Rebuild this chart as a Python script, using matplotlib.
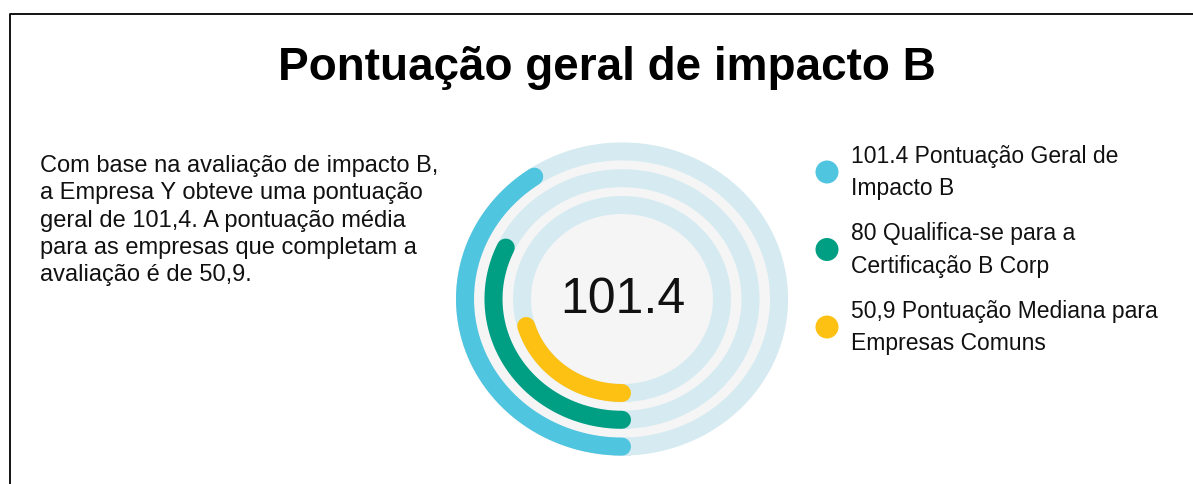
import numpy as np
import matplotlib.pyplot as plt

plt.rcParams['font.family'] = ['Liberation Sans', 'DejaVu Sans']

# dados
series_labels = [['101.4 Pontuação Geral de', 'Impacto B'],
                 ['80 Qualifica-se para a', 'Certificação B Corp'],
                 ['50,9 Pontuação Mediana para', 'Empresas Comuns']]
series_values = [101.4, 80, 50.9]
series_colors = ['#4fc5df', '#009e82', '#fdc113']
scale_max = 250
center_value = '101.4'
title = 'Pontuação geral de impacto B'
intro = ['Com base na avaliação de impacto B,',
         'a Empresa Y obteve uma pontuação',
         'geral de 101,4. A pontuação média',
         'para as empresas que completam a',
         'avaliação é de 50,9.']

W, H = 1193, 485
fig = plt.figure(figsize=(W / 100, H / 100), dpi=100)
ax = fig.add_axes([0, 0, 1, 1])
ax.set_xlim(0, W)
ax.set_ylim(H, 0)
ax.axis('off')

# moldura
ax.plot([9.5, 9.5, W], [H, 14.5, 14.5], color='black', lw=1.3, solid_capstyle='butt')

ax.text(607, 80, title, ha='center', va='baseline', fontsize=33, fontweight='bold')
for i, line in enumerate(intro):
    ax.text(40, 172 + i * 27.3, line, ha='left', va='baseline', fontsize=17, color='#111111')

# anéis
cx, cy = 622, 300
ry_ratio = 0.94
radii = [157, 128.5, 100]
ring_w = 18 * 72 / 100

t = np.linspace(0, 2 * np.pi, 400)
ax.fill(cx + 166 * np.sin(t), cy + 166 * ry_ratio * np.cos(t), color='#f5f5f5', lw=0)
for r in radii:
    ax.plot(cx + r * np.sin(t), cy + r * ry_ratio * np.cos(t), color='#d5ebf1', lw=ring_w)

for r, v, c in zip(radii, series_values, series_colors):
    ang = np.linspace(0, v / scale_max * 2 * np.pi, 200)
    ax.plot(cx - r * np.sin(ang), cy + r * ry_ratio * np.cos(ang), color=c, lw=ring_w,
            solid_capstyle='round')

ax.text(cx + 1, 313, center_value, ha='center', va='baseline', fontsize=36, color='#111111')

# legenda
leg_y = [173, 250.5, 328]
for y, lab, c in zip(leg_y, series_labels, series_colors):
    ax.scatter([827], [y], s=(23 * 0.72) ** 2, color=c, edgecolors='none')
    for j, line in enumerate(lab):
        ax.text(851, y - 10 + j * 32.5, line, ha='left', va='baseline', fontsize=16.5,
                color='#111111')

fig.savefig('out.png', dpi=100)
